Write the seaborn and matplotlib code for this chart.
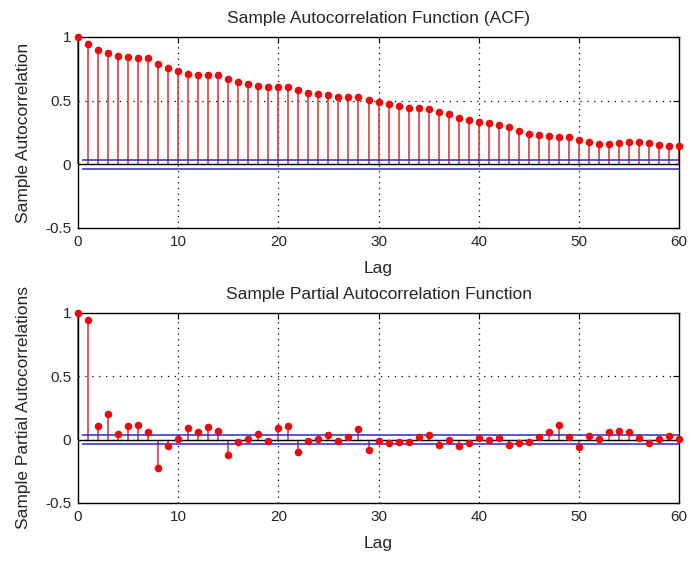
import numpy as np
import pandas as pd
import seaborn as sns
import matplotlib
matplotlib.use("Agg")
import matplotlib.pyplot as plt

# Lags 0..60
lags = list(range(61))

acf_values = [
    1.000, 0.942, 0.898, 0.877, 0.854, 0.844, 0.833, 0.833, 0.789, 0.755,
    0.734, 0.711, 0.703, 0.703, 0.703, 0.672, 0.645, 0.627, 0.614, 0.604,
    0.606, 0.606, 0.583, 0.562, 0.549, 0.541, 0.531, 0.531, 0.531, 0.508,
    0.487, 0.476, 0.455, 0.442, 0.442, 0.432, 0.411, 0.393, 0.367, 0.346,
    0.333, 0.323, 0.312, 0.294, 0.258, 0.239, 0.227, 0.219, 0.216, 0.216,
    0.192, 0.172, 0.161, 0.161, 0.164, 0.172, 0.172, 0.164, 0.153, 0.141,
    0.141,
]

pacf_values = [
    1.000, 0.945, 0.109, 0.201, 0.047, 0.109, 0.112, 0.057, -0.224, -0.049,
    0.005, 0.091, 0.057, 0.102, 0.068, -0.125, -0.021, 0.005, 0.047, -0.008,
    0.089, 0.104, -0.094, -0.008, 0.003, 0.039, -0.008, 0.018, 0.081, -0.083,
    -0.008, -0.028, -0.016, -0.016, 0.021, 0.039, -0.039, -0.005, -0.047, -0.024,
    0.013, -0.005, 0.016, -0.039, -0.026, -0.016, 0.023, 0.060, 0.112, 0.023,
    -0.060, 0.026, 0.003, 0.060, 0.070, 0.060, 0.013, -0.029, 0.005, 0.026,
    0.005,
]

conf_bound = 0.037
x_ticks = [0, 10, 20, 30, 40, 50, 60]
y_ticks = [-0.5, 0, 0.5, 1]

sns.set_style("white")
plt.rcParams["font.family"] = ["Liberation Sans", "DejaVu Sans"]
plt.rcParams["font.size"] = 10

fig = plt.figure(figsize=(6.91, 5.61), dpi=100)
ax_top = fig.add_axes([0.1129, 0.5936, 0.8698, 0.3405])
ax_bot = fig.add_axes([0.1129, 0.1034, 0.8698, 0.3387])

stem_color = "#cc3434"
marker_color = "#ee0a0a"
text_color = "#262626"


def draw_panel(ax, values, title, ylabel):
    df = pd.DataFrame({"lag": lags, "value": values})
    # dotted grid at the interior ticks
    for xv in x_ticks[1:-1]:
        ax.axvline(xv, color="black", linestyle=(0, (1, 3.5)), linewidth=0.9, zorder=0)
    for yv in y_ticks[1:-1]:
        ax.axhline(yv, color="black", linestyle=(0, (1, 4.5)), linewidth=0.9, zorder=0)
    ax.vlines(df["lag"], 0, df["value"], color=stem_color, linewidth=1.1, zorder=2)
    ax.axhline(0, color="black", linewidth=1.0, zorder=3)
    ax.hlines([conf_bound, -conf_bound], 0.4, 60, color="#2a2acc", linewidth=1.1, zorder=3)
    sns.scatterplot(data=df, x="lag", y="value", ax=ax, color=marker_color,
                    s=30, edgecolor=marker_color, linewidth=0, zorder=4, legend=False)
    ax.set_xlim(0, 60)
    ax.set_ylim(-0.5, 1)
    ax.set_xticks(x_ticks)
    ax.set_yticks(y_ticks)
    ax.set_yticklabels(["-0.5", "0", "0.5", "1"])
    ax.tick_params(direction="in", top=True, right=True, length=4, width=0.8,
                   labelsize=11, colors="black", labelcolor=text_color, pad=5)
    ax.set_title(title, fontsize=12.5, pad=10, color=text_color)
    ax.set_xlabel("Lag", fontsize=12.5, labelpad=9, color=text_color)
    ax.set_ylabel(ylabel, fontsize=12.5, labelpad=10, color=text_color)
    for sp in ax.spines.values():
        sp.set_color("black")
        sp.set_linewidth(1.0)
    for p in ax.collections:
        p.set_clip_on(False)


draw_panel(ax_top, acf_values, "Sample Autocorrelation Function (ACF)", "Sample Autocorrelation")
draw_panel(ax_bot, pacf_values, "Sample Partial Autocorrelation Function", "Sample Partial Autocorrelations")

fig.savefig("out.png", dpi=100)
